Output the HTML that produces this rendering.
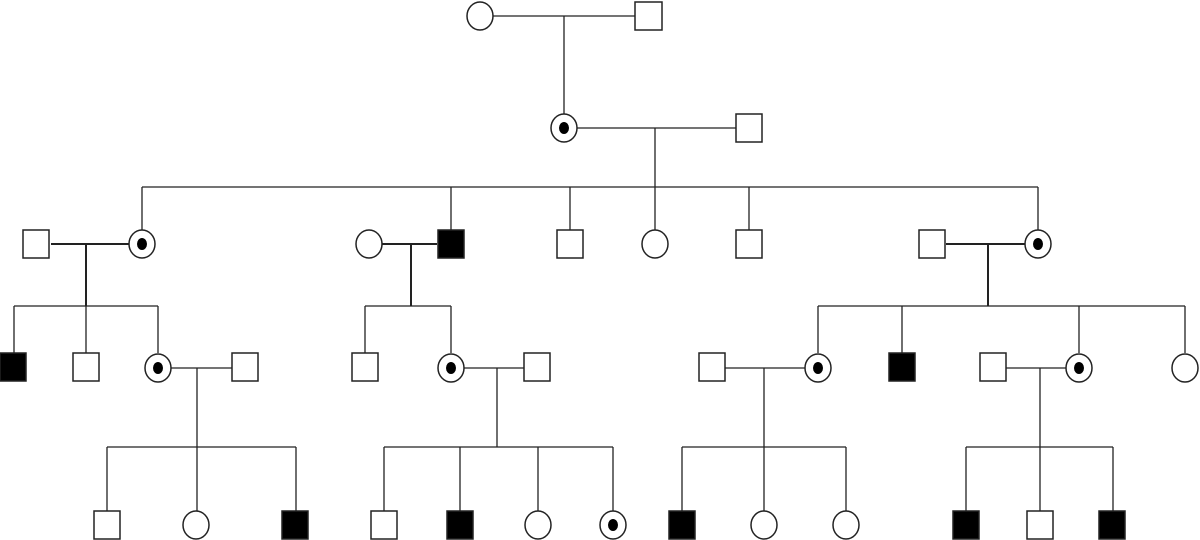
<!DOCTYPE html>
<html><head><meta charset="utf-8"><style>html,body{margin:0;padding:0;background:#fff;}svg{display:block}</style></head>
<body>
<svg width="1200" height="540" viewBox="0 0 1200 540" xmlns="http://www.w3.org/2000/svg">
<g stroke="#222" stroke-width="1.3" fill="none">
<!-- gen1 -->
<path d="M493 16H635M564 16V115"/>
<!-- gen2 -->
<path d="M577 128H736M655 128V187"/>
<path d="M142 187H1038M142 187V230M451 187V230M570 187V230M655 187V230M749 187V230M1038 187V230"/>
<!-- gen3 marriages -->
<path stroke-width="2" d="M51 244H129M86 244V306M382 244H437M411 244V306M946 244H1025M988 244V306"/>
<path d="M14 306H158M14 306V353M86 306V353M158 306V353"/>
<path d="M365 306H451M365 306V353M451 306V353"/>
<path d="M818 306H1185M818 306V353M902 306V353M1079 306V353M1185 306V353"/>
<!-- gen4 marriages -->
<path d="M171 368H232M197 368V447M464 368H524M497 368V447M725 368H805M764 368V447M1006 368H1066M1040 368V447"/>
<path d="M107 447H296M107 447V511M197 447V511M296 447V511"/>
<path d="M384 447H613M384 447V511M460 447V511M538 447V511M613 447V511"/>
<path d="M682 447H846M682 447V511M764 447V511M846 447V511"/>
<path d="M966 447H1113M966 447V511M1040 447V511M1113 447V511"/>
</g>
<g stroke="#222" stroke-width="1.5" fill="#fff">
<!-- gen1 -->
<ellipse cx="480" cy="16" rx="13" ry="14"/>
<rect x="635" y="2" width="27" height="28"/>
<!-- gen2 -->
<ellipse cx="564" cy="128" rx="13" ry="14"/>
<rect x="736" y="114" width="26" height="28"/>
<!-- gen3 -->
<rect x="23" y="230" width="26" height="28"/>
<ellipse cx="142" cy="244" rx="13" ry="14"/>
<ellipse cx="369" cy="244" rx="13" ry="14"/>
<rect x="438" y="230" width="26" height="28" fill="#000"/>
<rect x="557" y="230" width="26" height="28"/>
<ellipse cx="655" cy="244" rx="13" ry="14"/>
<rect x="736" y="230" width="26" height="28"/>
<rect x="919" y="230" width="26" height="28"/>
<ellipse cx="1038" cy="244" rx="13" ry="14"/>
<!-- gen4 -->
<rect x="0" y="353" width="26" height="28" fill="#000"/>
<rect x="73" y="353" width="26" height="28"/>
<ellipse cx="158" cy="368" rx="13" ry="14"/>
<rect x="232" y="353" width="26" height="28"/>
<rect x="352" y="353" width="26" height="28"/>
<ellipse cx="451" cy="368" rx="13" ry="14"/>
<rect x="524" y="353" width="26" height="28"/>
<rect x="699" y="353" width="26" height="28"/>
<ellipse cx="818" cy="368" rx="13" ry="14"/>
<rect x="889" y="353" width="26" height="28" fill="#000"/>
<rect x="980" y="353" width="26" height="28"/>
<ellipse cx="1079" cy="368" rx="13" ry="14"/>
<ellipse cx="1185" cy="368" rx="13" ry="14"/>
<!-- gen5 -->
<rect x="94" y="511" width="26" height="28"/>
<ellipse cx="196" cy="525" rx="13" ry="14"/>
<rect x="282" y="511" width="26" height="28" fill="#000"/>
<rect x="371" y="511" width="26" height="28"/>
<rect x="447" y="511" width="26" height="28" fill="#000"/>
<ellipse cx="538" cy="525" rx="13" ry="14"/>
<ellipse cx="613" cy="525" rx="13" ry="14"/>
<rect x="669" y="511" width="26" height="28" fill="#000"/>
<ellipse cx="764" cy="525" rx="13" ry="14"/>
<ellipse cx="846" cy="525" rx="13" ry="14"/>
<rect x="953" y="511" width="26" height="28" fill="#000"/>
<rect x="1027" y="511" width="26" height="28"/>
<rect x="1099" y="511" width="26" height="28" fill="#000"/>
</g>
<g fill="#000">
<ellipse cx="564" cy="128" rx="5" ry="6"/>
<ellipse cx="142" cy="244" rx="5" ry="6"/>
<ellipse cx="1038" cy="244" rx="5" ry="6"/>
<ellipse cx="158" cy="368" rx="5" ry="6"/>
<ellipse cx="451" cy="368" rx="5" ry="6"/>
<ellipse cx="818" cy="368" rx="5" ry="6"/>
<ellipse cx="1079" cy="368" rx="5" ry="6"/>
<ellipse cx="613" cy="525" rx="5" ry="6"/>
</g>
</svg>
</body></html>
